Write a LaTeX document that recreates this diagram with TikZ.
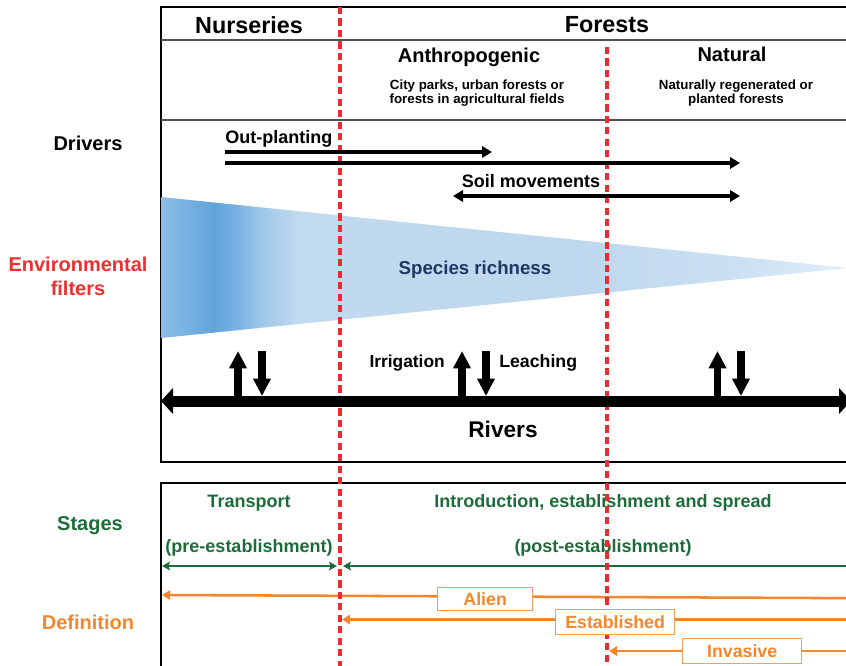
\documentclass[tikz,border=0pt]{standalone}
\usepackage{fontspec}
\setmainfont{Liberation Sans}
\usetikzlibrary{arrows.meta}

\definecolor{dashred}{RGB}{236,42,48}
\definecolor{filtred}{RGB}{236,48,48}
\definecolor{stagegreen}{RGB}{28,108,58}
\definecolor{deforange}{RGB}{244,134,44}
\definecolor{richblue}{RGB}{30,56,100}
\definecolor{frame}{RGB}{80,80,80}

\definecolor{shA}{RGB}{140,190,230}
\definecolor{shB}{RGB}{96,163,218}
\definecolor{shC}{RGB}{120,178,226}
\definecolor{shD}{RGB}{152,197,232}
\definecolor{shE}{RGB}{194,218,239}
\definecolor{shF}{RGB}{189,215,238}
\definecolor{shG}{RGB}{204,225,243}
\definecolor{shH}{RGB}{226,238,249}

% the path's bounding box spans 25bp..75bp of the shading
\pgfdeclarehorizontalshading{richness}{100bp}{%
  color(0bp)=(shA); color(25bp)=(shA); color(28.9bp)=(shB); color(30.5bp)=(shC);
  color(32bp)=(shD); color(35bp)=(shE); color(55bp)=(shF);
  color(67.5bp)=(shG); color(75bp)=(shH); color(100bp)=(shH)}

\tikzset{
  lbl/.style={font=\fontsize{15}{17}\selectfont\bfseries, inner sep=0pt},
  head/.style={font=\fontsize{17.5}{20}\selectfont\bfseries, inner sep=0pt},
  sub/.style={font=\fontsize{15}{17}\selectfont\bfseries, inner sep=0pt},
  small/.style={font=\fontsize{10}{10.5}\selectfont\bfseries, inner sep=0pt, align=center},
  mid/.style={font=\fontsize{13.5}{16}\selectfont\bfseries, inner sep=0pt},
  reddash/.style={dashred, line width=2.5pt, dash pattern=on 5.4pt off 3.2pt},
  driver/.style={line width=3.2pt, -{Triangle[length=7.5pt,width=8.5pt]}},
  flux/.style={line width=5.8pt, -{Triangle[length=13pt,width=12.5pt]}},
  river/.style={line width=8.25pt, {Triangle[length=9pt,width=19pt]}-{Triangle[length=9pt,width=19pt]}},
  stagearr/.style={stagegreen, line width=1.5pt},
  defarr/.style={deforange, line width=1.9pt, -{Triangle[length=6pt,width=7pt]}},
  defbox/.style={draw=deforange!80, line width=1pt, fill=white, text=deforange,
    font=\fontsize{13.3}{16}\selectfont\bfseries, inner sep=0pt, anchor=north west},
}

\begin{document}
\begin{tikzpicture}[x=0.75pt, y=-0.75pt]
\useasboundingbox (0,0) rectangle (846,665);
\begin{scope}
\clip (0,0) rectangle (846,665);

% upper panel frame and header rules
\draw[black, line width=1.1pt] (870,7) -- (161,7) -- (161,462) -- (870,462);
\draw[frame, line width=1.1pt] (161,40) -- (870,40);
\draw[frame, line width=1.1pt] (161,120) -- (870,120);

% lower panel frame
\draw[black, line width=1.1pt] (161,680) -- (161,483) -- (870,483);

% species richness wedge
\shade[shading=richness] (161,197) -- (848,268) -- (161,338) -- cycle;

% headers
\node[head] (nurs) at (249,25) {Nurseries};
\node[head] (for) at (607,25) {Forests};
\node[sub] (anth) at (469,57) {Anthropogenic};
\node[sub] (nat) at (732,54) {Natural};
\node[small] (anthd) at (477,93) {City parks, urban forests or\\forests in agricultural fields};
\node[small] (natd) at (736,93) {Naturally regenerated or\\planted forests};

% row labels
\node[lbl] (drv) at (88,143) {Drivers};
\node[lbl, text=filtred, align=center, font=\fontsize{15}{18}\selectfont\bfseries] (env) at (78,276) {Environmental\\filters};
\node[lbl, text=stagegreen] (stg) at (90,526) {Stages};
\node[lbl, text=deforange] (dfn) at (88,622) {Definition};

% driver and filter labels
\node[mid, anchor=west] (outp) at (225,139) {Out-planting};
\node[mid] (soil) at (531,181) {Soil movements};
\node[font=\fontsize{14}{16}\selectfont\bfseries, text=richblue, inner sep=0pt] (rich) at (475,270) {Species richness};
\node[font=\fontsize{13}{16}\selectfont\bfseries, inner sep=0pt, anchor=east] (irr) at (445,363) {Irrigation};
\node[font=\fontsize{13.3}{16}\selectfont\bfseries, inner sep=0pt, anchor=west] (lea) at (499,363) {Leaching};
\node[font=\fontsize{17}{20}\selectfont\bfseries, inner sep=0pt] (riv) at (503,429) {Rivers};

% stage labels
\node[mid, text=stagegreen] (trn) at (249,503) {Transport};
\node[mid, text=stagegreen] (ies) at (603,503) {Introduction, establishment and spread};
\node[mid, text=stagegreen] (pre) at (249,548) {(pre-establishment)};
\node[mid, text=stagegreen] (post) at (603,548) {(post-establishment)};

% stage arrows
\coordinate (sL) at (162,566);
\coordinate (sM) at (337,566);
\coordinate (sN) at (343,566);
\coordinate (sR) at (860,566);
\draw[stagearr, {Stealth[length=6pt,width=6.5pt,inset=1.2pt]}-{Stealth[length=6pt,width=6.5pt,inset=1.2pt]}] (sL) -- (sM);
\draw[stagearr, -{Stealth[length=6pt,width=6.5pt,inset=1.2pt]}] (sR) -- (sN);

% definition arrows
\coordinate (aR) at (860,598.2);
\coordinate (aL) at (162,595);
\coordinate (eR) at (860,619.5);
\coordinate (eL) at (342,619.5);
\coordinate (iR) at (860,651);
\coordinate (iL) at (609,651);
\draw[defarr] (aR) -- (aL);
\draw[defarr] (eR) -- (eL);
\draw[defarr] (iR) -- (iL);

% boundaries between nurseries, anthropogenic and natural forests
\coordinate (b1t) at (340,7);
\coordinate (b1b) at (340,680);
\coordinate (b2t) at (607,47);
\coordinate (b2b) at (607,680);
\draw[reddash] (b1t) -- (b1b);
\draw[reddash] (b2t) -- (b2b);

% driver arrows
\coordinate (o1a) at (225,152);
\coordinate (o1b) at (492,152);
\coordinate (o2a) at (225,163);
\coordinate (o2b) at (740,163);
\coordinate (s1a) at (453,196);
\coordinate (s1b) at (740,196);
\draw[driver] (o1a) -- (o1b);
\draw[driver] (o2a) -- (o2b);
\draw[driver, {Triangle[length=7.5pt,width=8.5pt]}-{Triangle[length=7.5pt,width=8.5pt]}] (s1a) -- (s1b);

% river exchange arrows
\coordinate (rL) at (161,401);
\coordinate (rR) at (851,401);
\draw[river] (rL) -- (rR);
\foreach \u/\d [count=\k] in {238/262, 462/486, 717.5/741} {
  \coordinate (up\k a) at (\u,397);
  \coordinate (up\k b) at (\u,351);
  \coordinate (dn\k a) at (\d,351);
  \coordinate (dn\k b) at (\d,396);
  \draw[flux] (up\k a) -- (up\k b);
  \draw[flux] (dn\k a) -- (dn\k b);
}

% definition boxes
\node[defbox, minimum width=95*0.75pt, minimum height=23*0.75pt] (alien) at (437,587) {Alien};
\node[defbox, minimum width=119*0.75pt, minimum height=24.5*0.75pt] (estab) at (555,609) {Established};
\node[defbox, minimum width=119*0.75pt, minimum height=25*0.75pt] (inv) at (682,638) {Invasive};
\end{scope}
\end{tikzpicture}
\end{document}
